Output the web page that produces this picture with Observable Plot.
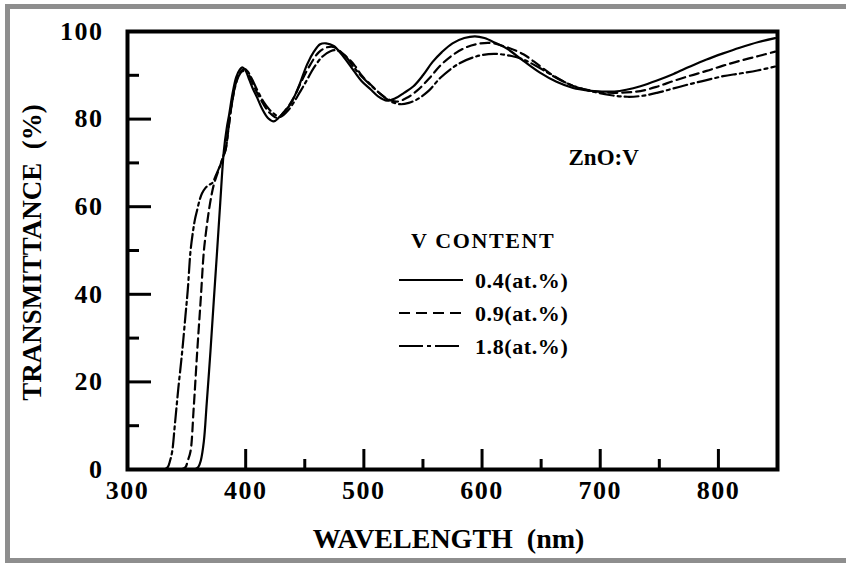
<!DOCTYPE html>
<html><head><meta charset="utf-8">
<script src="https://cdn.jsdelivr.net/npm/d3@7"></script>
<script src="https://cdn.jsdelivr.net/npm/@observablehq/plot@0.6"></script>
<style>
html,body{margin:0;padding:0;background:#fff;}
#wrap{position:relative;width:846px;height:563px;overflow:hidden;background:#fff;}
#wrap svg{position:absolute;left:0;top:0;}
#border{position:absolute;left:5px;top:4px;width:900px;height:549px;border:5px solid #8e8e8e;border-right:none;pointer-events:none;z-index:3;}
text{font-family:"Liberation Serif","Times New Roman",serif;}
g[aria-label="x-axis tick label"] text, g[aria-label="y-axis tick label"] text{letter-spacing:1.5px;}
g[aria-label="x-title"] text{letter-spacing:3px;}
g[aria-label="y-title"] text{letter-spacing:1.3px;}
g[aria-label="annotation"] text{letter-spacing:2.5px;}
</style></head><body><div id="wrap"><div id="border"></div></div>
<script>
// ---- data ----
const wavelength04 = [357,360,362,364.6,367,370.2,373,375.8,378.5,381.5,384,386,389,392,395,397,399.5,403,406,409.7,414,419,423.8,428,432,437.9,445,452,458,463,468,474.5,482,491.5,498,505.6,512,519.7,527,534,542,550,558,566,575,585,594,602,612,621,635,649,663,677,690,700,712,722,734,748,762,776,790,804,818,834,848];
const trans04 = [0,0.6,2,6.4,15,27,38.5,49.8,61,72.7,78,81,86,89.6,91.3,91.8,91.3,89,87,84.9,82.3,80.2,79.5,80.3,81.5,83.4,87.5,92.5,95.5,97.1,97.3,96.7,94.5,91,88.7,86.8,85.2,84.2,84.8,86,87.5,90,93,95.3,97.3,98.5,98.9,98.5,97.3,96.1,93.3,90.6,88.5,87.1,86.5,86.3,86.3,86.7,87.5,88.8,90.3,92,93.6,95,96.3,97.6,98.5];

const wavelength09 = [345,349,351,353.3,356,359,362,364.6,366.8,368.8,371,373,376,378.7,381,383,385.5,388,391,394,397,399.8,403,407,411,415,420,426.6,433,440.7,447,454.8,462,469,474,482,491.5,498,505.6,513,520,528,536,545,555,565,575,585,595,607,620,635,648,660,675,690,700,711,722,734,748,762,776,790,804,818,834,848];
const trans09 = [0,0.5,2,4.1,14,27,39,49.8,55,59,62.5,65,67.5,69.6,71.5,73,78,83,87.5,90,91.2,91.4,90,87.5,85.3,83.4,81.5,80.3,81.8,84.9,88.5,92.5,95.3,96.4,96.5,95,92.5,90,87.9,86,84.6,84,84.8,86.5,89.2,92.3,94.6,96.2,97.1,97.4,96.5,94.8,92.3,90,87.8,86.6,86.2,86,86.1,86.4,87.4,88.7,89.9,91,92.2,93.3,94.4,95.4];

const wavelength18 = [331,334,336,337.8,340,343,346.3,349,351,353.3,355.5,357,359,361,363,366,369,371.7,375,378.7,381,383,385.5,388,391,394,397,401,405,410,415,420,425,429.4,436,446.4,452,457.6,465,471.7,477,484,491,499,508,516,523,531,538,545,555,565,580,595,610,625,635,650,663,678,692,708,723,735,748,762,776,790,804,818,833,848];
const trans18 = [0,0.5,2,4.1,10,18.5,27,35,41,49.8,54.5,57,59.3,61.5,63,64.3,65,65.4,67.3,69.6,71.5,73,78,83,87.3,89.8,90.9,91,89.3,86.5,84,82.2,81,80.5,82,86.4,89,91.7,94.3,95.5,95.7,94.5,92,89.5,87.2,85.3,84,83.4,83.7,84.5,86.5,89.5,92.6,94.3,94.9,94.4,93.6,91.5,89.4,87.5,86.4,85.5,85.1,85.3,86,87,88,88.9,89.8,90.4,91.1,92];

const seriesNames = ["0.4(at.%)", "0.9(at.%)", "1.8(at.%)"];
const xTickLabels = [300, 400, 500, 600, 700, 800];
const xMajorTicks = [400, 500, 600, 700, 800];
const xMinorTicks = [450, 550, 650, 750];
const yTickLabels = [0, 20, 40, 60, 80, 100];
const yMajorTicks = [20, 40, 60, 80];
const yMinorTicks = [10, 30, 50, 70, 90];
const xTitle = "WAVELENGTH  (nm)";
const yTitle = "TRANSMITTANCE  (%)";
const annotation = "ZnO:V";
const legendTitle = "V CONTENT";

// ---- build table ----
const dashes = ["none", "9,5", "14,4,3,4"];
const legendDashes = ["none", "11,6", "24,4,4,4"];
const rows = [
  ...wavelength04.map((w, i) => ({series: seriesNames[0], wavelength: w, transmittance: trans04[i]})),
  ...wavelength09.map((w, i) => ({series: seriesNames[1], wavelength: w, transmittance: trans09[i]})),
  ...wavelength18.map((w, i) => ({series: seriesNames[2], wavelength: w, transmittance: trans18[i]}))
];

const bold = {fontWeight: "bold", fontFamily: "Liberation Serif"};
const chart = Plot.plot({
  width: 846, height: 563,
  marginLeft: 127, marginRight: 69, marginTop: 31, marginBottom: 94,
  x: {domain: [300, 850]},
  y: {domain: [0, 100]},
  style: {fontFamily: "Liberation Serif", background: "transparent", color: "#000", overflow: "visible"},
  marks: [
    ...seriesNames.map((s, k) => Plot.line(rows.filter(d => d.series === s), {
      x: "wavelength", y: "transmittance", stroke: "#000", strokeWidth: 2.2,
      strokeDasharray: dashes[k], curve: "catmull-rom"
    })),
    Plot.axisX(xMajorTicks, {tickSize: -20, strokeWidth: 3, fill: "none", label: null}),
    Plot.axisX(xMinorTicks, {tickSize: -10, strokeWidth: 3, fill: "none", label: null}),
    Plot.axisX(xTickLabels, {tickSize: 0, tickPadding: 11, fontSize: 26, ...bold, label: null, tickFormat: d => String(d)}),
    Plot.axisY(yMajorTicks, {tickSize: -24, strokeWidth: 3, fill: "none", label: null}),
    Plot.axisY(yMinorTicks, {tickSize: -12, strokeWidth: 3, fill: "none", label: null}),
    Plot.axisY(yTickLabels, {tickSize: 0, tickPadding: 24, fontSize: 26, ...bold, label: null, tickFormat: d => String(d)}),
    Plot.frame({strokeWidth: 4}),
    Plot.text([xTitle], {text: d => d, frameAnchor: "bottom", textAnchor: "middle", lineAnchor: "bottom", dy: 78, dx: -4, fontSize: 28, ...bold, ariaLabel: "x-title"}),
    Plot.text([yTitle], {text: d => d, frameAnchor: "left", textAnchor: "middle", rotate: -90, lineAnchor: "bottom", dx: -87, dy: 2, fontSize: 27, ...bold, ariaLabel: "y-title"}),
    Plot.text([annotation], {text: d => d, frameAnchor: "top-left", textAnchor: "start", lineAnchor: "bottom", dx: 441, dy: 133, fontSize: 23, ...bold, ariaLabel: "annotation"})
  ]
});
const wrap = document.getElementById("wrap");
wrap.insertBefore(chart, wrap.firstChild);

// ---- legend overlay ----
const leg = d3.select(wrap).append("svg").attr("width", 846).attr("height", 563).style("pointer-events", "none");
leg.append("text").attr("x", 411).attr("y", 248).attr("font-size", 22).attr("font-weight", "bold")
  .style("letter-spacing", "1.6px").text(legendTitle);
seriesNames.forEach((s, i) => {
  const y = 280 + i * 33;
  leg.append("line").attr("x1", 399).attr("x2", 463).attr("y1", y).attr("y2", y)
    .attr("stroke", "#000").attr("stroke-width", 2.2).attr("stroke-dasharray", legendDashes[i]);
  leg.append("text").attr("x", 475).attr("y", y + 7.5).attr("font-size", 22).attr("font-weight", "bold")
    .style("letter-spacing", "0.6px").text(s);
});
</script>
</body></html>
